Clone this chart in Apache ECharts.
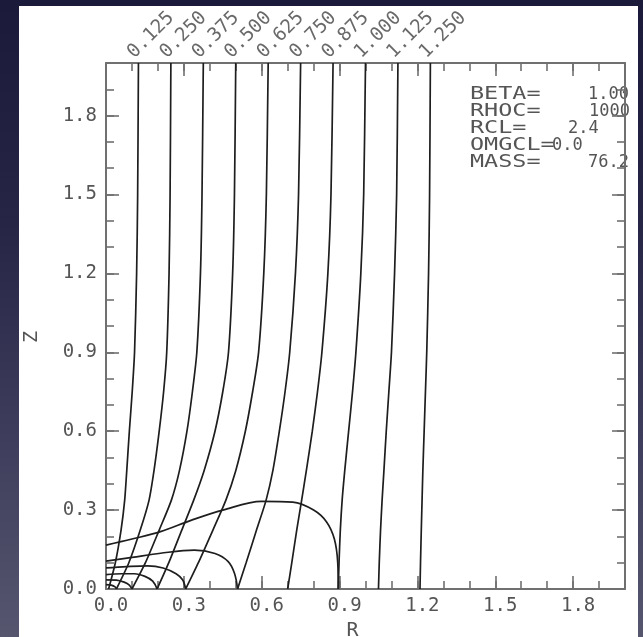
<!DOCTYPE html>
<html>
<head>
<meta charset="utf-8">
<script src="https://cdn.jsdelivr.net/npm/echarts@6/dist/echarts.min.js"></script>
<style>
html,body{margin:0;padding:0;width:643px;height:637px;overflow:hidden;
  background:linear-gradient(180deg,#1b1a3a 0%,#262546 35%,#3f3e5c 70%,#57566f 100%);}
#paper{position:absolute;left:19px;top:6px;width:619px;height:631px;background:#ffffff;}
#chart{position:absolute;left:0;top:0;width:643px;height:637px;}
</style>
</head>
<body>
<div id="paper"></div>
<div id="chart"></div>
<script>
// ---------- data ----------
const lineLabels = ['0.125','0.250','0.375','0.500','0.625','0.750','0.875','1.000','1.125','1.250'];
// Z levels at which each labelled line is sampled (bottom -> top)
const lineZ   = [0.000, 0.100, 0.224, 0.338, 0.450, 0.600, 0.750, 0.900, 1.200, 1.500, 2.000];
const lineR1  = [0.010, 0.036, 0.058, 0.072, 0.080, 0.090, 0.101, 0.110, 0.118, 0.122, 0.125];
const lineR2  = [0.040, 0.088, 0.132, 0.166, 0.185, 0.205, 0.222, 0.234, 0.243, 0.247, 0.250];
const lineR3  = [0.100, 0.152, 0.205, 0.252, 0.283, 0.312, 0.333, 0.350, 0.364, 0.370, 0.375];
const lineR4  = [0.197, 0.242, 0.292, 0.338, 0.378, 0.420, 0.450, 0.472, 0.488, 0.495, 0.500];
const lineR5  = [0.307, 0.356, 0.412, 0.462, 0.500, 0.537, 0.565, 0.588, 0.608, 0.618, 0.625];
const lineR6  = [0.507, 0.540, 0.580, 0.617, 0.643, 0.668, 0.690, 0.708, 0.730, 0.742, 0.750];
const lineR7  = [0.700, 0.716, 0.735, 0.754, 0.772, 0.795, 0.815, 0.832, 0.855, 0.867, 0.875];
const lineR8  = [0.895, 0.898, 0.903, 0.910, 0.920, 0.935, 0.950, 0.963, 0.982, 0.993, 1.000];
const lineR9  = [1.050, 1.053, 1.058, 1.064, 1.071, 1.080, 1.090, 1.100, 1.112, 1.120, 1.125];
const lineR10 = [1.210, 1.212, 1.215, 1.218, 1.221, 1.226, 1.231, 1.236, 1.243, 1.247, 1.250];

// closed contours near the equatorial plane (R, Z pairs)
const arcA_R = [0.000, 0.100, 0.210, 0.330, 0.450, 0.600, 0.720, 0.800, 0.850, 0.880, 0.893, 0.895];
const arcA_Z = [0.167, 0.190, 0.218, 0.262, 0.300, 0.333, 0.330, 0.300, 0.255, 0.190, 0.100, 0.000];
const arcB_R = [0.000, 0.100, 0.210, 0.340, 0.420, 0.470, 0.495, 0.507];
const arcB_Z = [0.106, 0.120, 0.136, 0.148, 0.135, 0.105, 0.060, 0.000];
const arcC_R = [0.000, 0.080, 0.160, 0.220, 0.270, 0.295, 0.307];
const arcC_Z = [0.080, 0.085, 0.088, 0.080, 0.058, 0.035, 0.000];
const arcD_R = [0.000, 0.060, 0.110, 0.150, 0.180, 0.197];
const arcD_Z = [0.055, 0.058, 0.058, 0.048, 0.030, 0.000];
const arcE_R = [0.000, 0.040, 0.070, 0.090, 0.100];
const arcE_Z = [0.035, 0.034, 0.026, 0.015, 0.000];
const arcF_R = [0.000, 0.020, 0.035, 0.040];
const arcF_Z = [0.017, 0.015, 0.008, 0.000];

// parameter box
const paramKeys   = ['BETA=', 'RHOC=', 'RCL=', 'OMGCL=', 'MASS='];
const paramValues = ['1.00', '1000', '2.4', '0.0', '76.2'];

// axes
const axisMin = 0, axisMax = 2.0, majorStep = 0.3, minorStep = 0.1;

// ---------- chart ----------
const FONT = 'DejaVu Sans Mono';
const FRAME = '#707070';
const INK = '#1e1e1e';
const TXT = '#555';
const chart = echarts.init(document.getElementById('chart'));

function axis(pos, step, len, isMain, extra) {
  return Object.assign({
    type: 'value', position: pos, min: axisMin, max: axisMax, interval: step,
    gridIndex: 0,
    axisLine: {show: isMain, onZero: false, lineStyle: {color: FRAME, width: 2}},
    axisTick: {show: true, inside: true, length: len, lineStyle: {color: FRAME, width: 1.6}},
    axisLabel: {show: false},
    splitLine: {show: false}
  }, extra || {});
}
const fmt = v => (v > axisMax - 0.05 ? '' : v.toFixed(1));

const xAxes = [
  axis('bottom', majorStep, 13, true, {
    name: 'R', nameLocation: 'middle', nameGap: 26,
    nameTextStyle: {fontFamily: FONT, fontSize: 20, color: TXT, padding: [0, 26, 0, 0]},
    axisLabel: {show: true, formatter: fmt, fontFamily: FONT, fontSize: 19, color: TXT,
      margin: 8, padding: [0, 0, 0, 10]}
  }),
  axis('bottom', minorStep, 8, false),
  axis('top', majorStep, 13, true),
  axis('top', minorStep, 8, false)
];
const yAxes = [
  axis('left', majorStep, 13, true, {
    name: 'Z', nameLocation: 'middle', nameGap: 64, nameRotate: 90,
    nameTextStyle: {fontFamily: FONT, fontSize: 20, color: TXT, padding: [0, 22, 0, 0]},
    axisLabel: {show: true, formatter: fmt, fontFamily: FONT, fontSize: 19, color: TXT, margin: 9}
  }),
  axis('left', minorStep, 8, false),
  axis('right', majorStep, 13, true),
  axis('right', minorStep, 8, false)
];

const lineRs = [lineR1, lineR2, lineR3, lineR4, lineR5, lineR6, lineR7, lineR8, lineR9, lineR10];
const arcs = [[arcA_R, arcA_Z], [arcB_R, arcB_Z], [arcC_R, arcC_Z], [arcD_R, arcD_Z], [arcE_R, arcE_Z], [arcF_R, arcF_Z]];

const series = [];
lineRs.forEach((rs, i) => {
  series.push({
    type: 'line', name: lineLabels[i], xAxisIndex: 0, yAxisIndex: 0,
    data: rs.map((r, k) => [r, lineZ[k]]),
    smooth: 0.25, symbol: 'none', silent: true,
    lineStyle: {color: INK, width: 1.7}
  });
});
arcs.forEach((a, i) => {
  series.push({
    type: 'line', name: 'contour' + (i + 1), xAxisIndex: 0, yAxisIndex: 0,
    data: a[0].map((r, k) => [r, a[1][k]]),
    smooth: 0.35, symbol: 'none', silent: true,
    lineStyle: {color: INK, width: 1.7}
  });
});
// rotated labels at the top end of each line
series.push({
  type: 'scatter', name: 'labels', xAxisIndex: 0, yAxisIndex: 0,
  data: lineRs.map(rs => [rs[rs.length - 1], lineZ[lineZ.length - 1]]),
  symbolSize: 0, silent: true, clip: false,
  label: {
    show: true, position: [-1, -1], align: 'left', verticalAlign: 'bottom', rotate: 45,
    formatter: p => lineLabels[p.dataIndex],
    fontFamily: FONT, fontSize: 19, color: '#444'
  }
});

const graphics = [];
paramKeys.forEach((k, i) => {
  graphics.push({
    type: 'text', x: 470, y: 86 + i * 17, scaleX: 1.38, silent: true,
    style: {text: k, fontFamily: FONT, fontSize: 17, fill: TXT, textVerticalAlign: 'top'}
  });
});
const valueX = [588, 589, 568, 552, 588];
paramValues.forEach((v, i) => {
  graphics.push({
    type: 'text', x: valueX[i], y: 86 + i * 17, silent: true,
    style: {text: v, fontFamily: FONT, fontSize: 17, fill: TXT, textVerticalAlign: 'top'}
  });
});

chart.setOption({
  animation: false,
  backgroundColor: 'transparent',
  grid: {left: 106, right: 18, top: 63, bottom: 48, containLabel: false, outerBoundsMode: 'none'},
  xAxis: xAxes,
  yAxis: yAxes,
  series: series,
  graphic: graphics
});
</script>
</body>
</html>
